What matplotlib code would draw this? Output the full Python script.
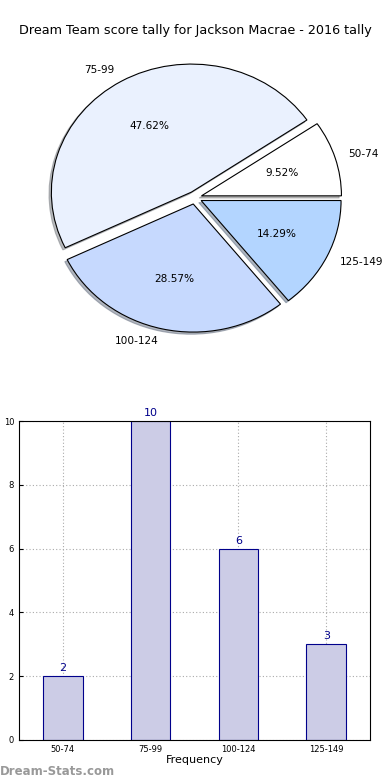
import numpy as np
import matplotlib.pyplot as plt

# data
labels = ['50-74', '75-99', '100-124', '125-149']
counts = [2, 10, 6, 3]
pie_colors = ['#ffffff', '#eaf1fe', '#c6d9fe', '#b3d5ff']
title = 'Dream Team score tally for Jackson Macrae - 2016 tally'

fig = plt.figure(figsize=(3.9, 7.8), dpi=100)
fig.text(0.5, 0.961, title, ha='center', va='center', fontsize=9.2)

# pie
ax1 = fig.add_axes([0.033, 0.533, 0.933, 0.427])
ax1.pie(counts, labels=labels, colors=pie_colors, autopct='%.2f%%',
        explode=[0.05] * 4, shadow={'ox': -0.012, 'oy': -0.012, 'shade': 0.5},
        startangle=0,
        wedgeprops=dict(edgecolor='k', linewidth=0.8),
        textprops=dict(fontsize=7.6))
ax1.set_aspect('auto')
ax1.set_xlim(-1.3, 1.3), ax1.set_ylim(-1.3, 1.3)
ax1.axis('off')

# bars
ax2 = fig.add_axes([0.0487, 0.0513, 0.9003, 0.4087])
x = np.arange(len(labels))
ax2.bar(x, counts, width=0.45, color='#ccccE6', edgecolor='#00008b', linewidth=0.8, zorder=2)
for xi, c in zip(x, counts):
    ax2.text(xi, c + 0.1, str(c), ha='center', va='bottom', color='#00008b', fontsize=8)
ax2.set_xlim(-0.5, 3.5)
ax2.set_ylim(0, 10)
ax2.set_xticks(x)
ax2.set_xticklabels(labels)
ax2.set_yticks([0, 2, 4, 6, 8, 10])
ax2.tick_params(labelsize=6, length=3, direction='in')
ax2.grid(True, linestyle=(0, (1, 2)), color='#aaaaaa', linewidth=0.8, zorder=0)
ax2.set_xlabel('Frequency', fontsize=8, labelpad=1)
ax2.set_ylabel('Score Interval', fontsize=8, labelpad=4)
ax2.yaxis.set_label_coords(-0.075, 0.5)

fig.text(0.0, 0.003, 'Dream-Stats.com', fontsize=8.5, color='#999999', fontweight='bold', ha='left', va='bottom')

plt.savefig('out.png', dpi=100)
